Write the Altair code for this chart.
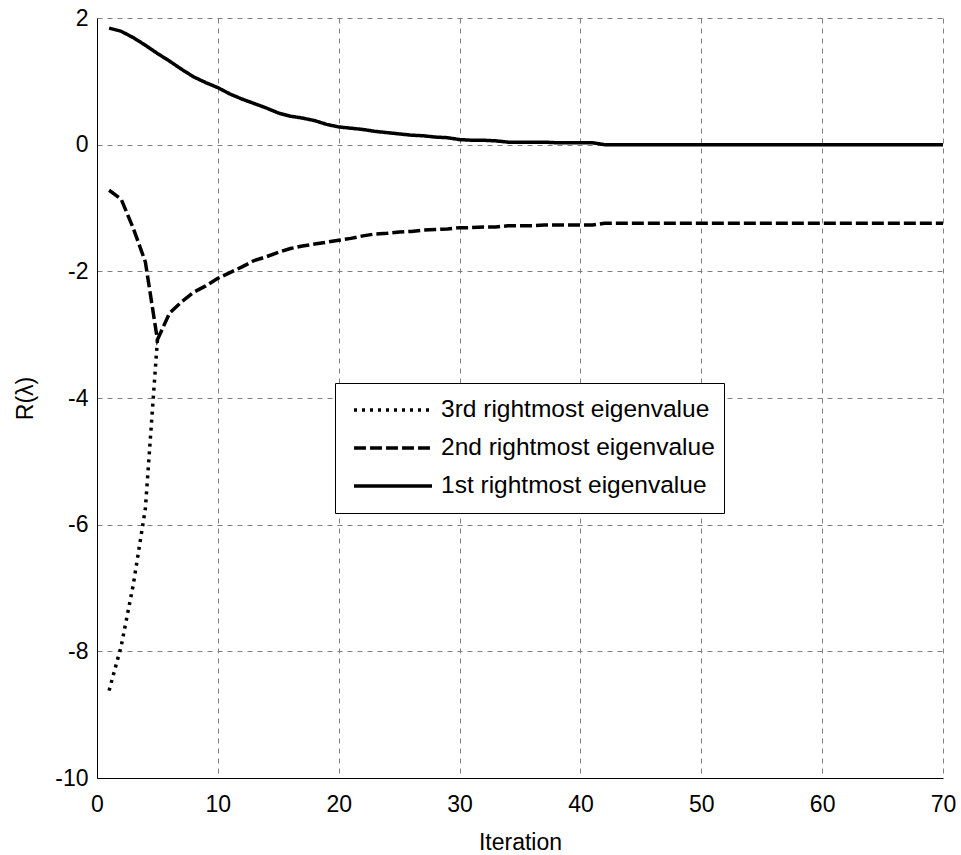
import altair as alt
import pandas as pd

# ---- data ----
iterations = list(range(1, 71))

first_vals = [1.84, 1.79, 1.69, 1.57, 1.44, 1.32, 1.19, 1.07, 0.98, 0.90,
              0.80, 0.72, 0.65, 0.58, 0.50, 0.45, 0.42, 0.38, 0.32, 0.28,
              0.26, 0.24, 0.21, 0.19, 0.17, 0.15, 0.14, 0.12, 0.11, 0.08,
              0.07, 0.07, 0.06, 0.04, 0.04, 0.04, 0.04, 0.03, 0.03, 0.03,
              0.03, 0.00, 0.00, 0.00, 0.00, 0.00, 0.00, 0.00, 0.00, 0.00,
              0.00, 0.00, 0.00, 0.00, 0.00, 0.00, 0.00, 0.00, 0.00, 0.00,
              0.00, 0.00, 0.00, 0.00, 0.00, 0.00, 0.00, 0.00, 0.00, 0.00]

second_vals = [-0.72, -0.86, -1.32, -1.85, -3.08, -2.66, -2.48, -2.33, -2.23, -2.11,
               -2.02, -1.93, -1.83, -1.77, -1.70, -1.64, -1.60, -1.57, -1.54, -1.51,
               -1.48, -1.44, -1.41, -1.40, -1.38, -1.37, -1.35, -1.34, -1.33, -1.31,
               -1.31, -1.30, -1.30, -1.28, -1.28, -1.28, -1.27, -1.27, -1.27, -1.27,
               -1.27, -1.24, -1.24, -1.24, -1.24, -1.24, -1.24, -1.24, -1.24, -1.24,
               -1.24, -1.24, -1.24, -1.24, -1.24, -1.24, -1.24, -1.24, -1.24, -1.24,
               -1.24, -1.24, -1.24, -1.24, -1.24, -1.24, -1.24, -1.24, -1.24, -1.24]

third_iters = [1, 2, 3, 4, 5]
third_vals = [-8.62, -7.92, -6.95, -5.75, -3.08]

series_names = ["3rd rightmost eigenvalue",
                "2nd rightmost eigenvalue",
                "1st rightmost eigenvalue"]

x_ticks = [0, 10, 20, 30, 40, 50, 60, 70]
y_ticks = [-10, -8, -6, -4, -2, 0, 2]

df = pd.concat([
    pd.DataFrame({"iteration": third_iters, "value": third_vals, "series": series_names[0]}),
    pd.DataFrame({"iteration": iterations, "value": second_vals, "series": series_names[1]}),
    pd.DataFrame({"iteration": iterations, "value": first_vals, "series": series_names[2]}),
], ignore_index=True)

FONT = "Liberation Sans"

chart = alt.Chart(df).mark_line(
    color="black", strokeWidth=3.5, strokeCap="butt", strokeJoin="miter"
).encode(
    x=alt.X("iteration:Q",
            scale=alt.Scale(domain=[0, 70], nice=False, zero=False),
            axis=alt.Axis(values=x_ticks, title="Iteration",
                          labelExpr="'' + datum.value", labelFlush=False,
                          labelPadding=15, titleY=64, titleBaseline="middle")),
    y=alt.Y("value:Q",
            scale=alt.Scale(domain=[-10, 2], nice=False, zero=False),
            axis=alt.Axis(values=y_ticks, title="R(λ)",
                          labelExpr="'' + datum.value", labelFlush=False,
                          labelPadding=9, titleX=-72, titleBaseline="middle",
                          titleAlign="center")),
    strokeDash=alt.StrokeDash(
        "series:N",
        scale=alt.Scale(domain=series_names, range=[[3, 5], [12, 4], [1, 0]]),
        legend=alt.Legend(
            title=None, orient="none", legendX=238, legendY=365,
            strokeColor="black", fillColor="white", padding=9,
            symbolType="stroke", symbolSize=6084, symbolStrokeWidth=3.5,
            symbolStrokeColor="black", symbolOffset=8,
            labelFontSize=24.5, labelFont=FONT, labelColor="black",
            labelOffset=7, clipHeight=36, rowPadding=2, cornerRadius=0,
            labelLimit=400,
        ),
    ),
).properties(
    width=846, height=760,
    autosize=alt.AutoSizeParams(type="none"),
    padding={"left": 97, "top": 18, "right": 18, "bottom": 77},
    background="white",
).configure_view(
    stroke=None
).configure_axis(
    grid=True, gridColor="#808080", gridDash=[5, 5], gridWidth=1, gridOpacity=1,
    domainColor="black", domainWidth=1, ticks=False, tickSize=0,
    labelFont=FONT, labelFontSize=23, labelColor="black",
    titleFont=FONT, titleFontSize=23, titleFontWeight="normal", titleColor="black",
)

chart.save("out.html", embed_options={"renderer": "svg", "actions": False})
